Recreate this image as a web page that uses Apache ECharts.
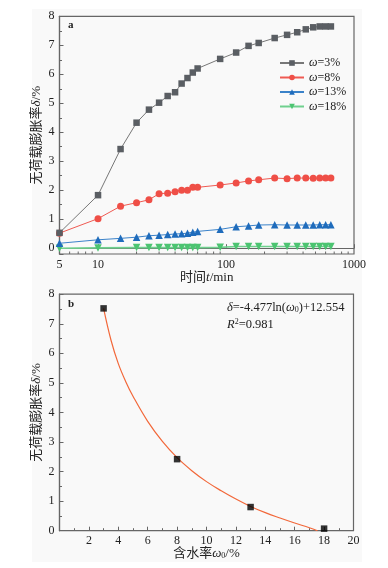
<!DOCTYPE html>
<html>
<head>
<meta charset="utf-8">
<script src="https://cdn.jsdelivr.net/npm/echarts@6/dist/echarts.min.js"></script>
<style>
html,body{margin:0;padding:0;background:#fff;}
#c{width:388px;height:568px;}
</style>
</head>
<body>
<div id="c"></div>
<script>
// ---- Data (panel a) ----
const times = [5,10,15,20,25,30,35,40,45,50,55,60,90,120,150,180,240,300,360,420,480,540,600,660];
const w3  = [0.53,1.83,3.42,4.33,4.78,5.02,5.25,5.38,5.68,5.87,6.06,6.20,6.53,6.75,6.98,7.08,7.25,7.36,7.45,7.55,7.62,7.65,7.65,7.65];
const w8  = [0.52,1.02,1.45,1.57,1.67,1.88,1.90,1.95,2.00,2.00,2.10,2.10,2.18,2.25,2.32,2.36,2.42,2.40,2.42,2.42,2.41,2.42,2.42,2.42];
const w13 = [0.17,0.29,0.34,0.38,0.43,0.45,0.47,0.49,0.50,0.52,0.55,0.58,0.65,0.74,0.77,0.80,0.81,0.80,0.80,0.80,0.80,0.81,0.81,0.81];
const w18 = [0.00,0.01,null,0.02,0.02,0.02,0.02,0.02,0.02,0.02,0.02,0.02,0.03,0.06,0.06,0.06,0.06,0.06,0.06,0.06,0.06,0.06,0.06,0.06];
const seriesNames = ['ω=3%','ω=8%','ω=13%','ω=18%'];
const xMinorTicks = [6,7,8,9,20,30,40,50,60,70,80,90,200,300,400,500,600,700,800,900];

// ---- Data (panel b) ----
const moisture = [3,8,13,18];
const swell = [7.52,2.42,0.80,0.07];
const fitX = [3,3.5,4,4.5,5,6,7,8,9,10,11,12,13,14,15,16,17,17.55];
const fitY = [7.52,6.45,5.65,5.05,4.55,3.70,3.02,2.47,2.03,1.66,1.35,1.07,0.82,0.61,0.43,0.26,0.10,0.00];

const SERIF = '"Liberation Serif","Noto Sans CJK SC",serif';
const axisColor = '#666';
const labelStyle = {fontFamily: SERIF, fontSize: 12, color: '#222'};
const italic = {fontFamily: SERIF, fontStyle: 'italic', fontSize: 13, color: '#222'};

const chart = echarts.init(document.getElementById('c'));

function pairs(xs, ys){ return xs.map((x,i)=>[x, ys[i]]); }

const lineColors = ['#5a5e63','#ef4f47','#1f6cbc','#4cc471'];
const lineStroke = ['#777','#ef5a52','#3a82c9','#6fd08e'];
const symbols = ['rect','circle','triangle','triangle'];
const rot = [0,0,0,180];
const sizes = [6.5,7,7.5,7.5];
const dataSets = [w3,w8,w13,w18];

const lineSeries = dataSets.map((d,i)=>({
  name: seriesNames[i],
  type: 'line',
  xAxisIndex: 0, yAxisIndex: 0,
  data: pairs(times, d),
  connectNulls: true,
  symbol: symbols[i],
  symbolRotate: rot[i],
  symbolSize: sizes[i],
  showSymbol: true,
  lineStyle: {color: lineStroke[i], width: i===3 ? 1.6 : 1},
  itemStyle: {color: lineColors[i]},
  emphasis: {disabled: true},
  animation: false,
  z: 3 + (3 - i)
}));

const yName = {
  name:'无荷载膨胀率{i|δ}/%', nameLocation:'middle', nameGap:16, nameMoveOverlap:false,
  nameTextStyle:{fontFamily:SERIF,fontSize:13,color:'#222',rich:{i:italic}}
};

const option = {
  animation: false,
  graphic: [
    {type:'rect', shape:{x:32,y:9,width:330,height:553}, style:{fill:'#f9f9f9'}, z:-100, silent:true},
    {type:'text', left:68, top:20, style:{text:'a', font:'bold 11px "Liberation Serif"', fill:'#222'}},
    {type:'text', left:68, top:299, style:{text:'b', font:'bold 11px "Liberation Serif"', fill:'#222'}},
    {type:'text', left:227, top:301, style:{
      text:'{i|δ}=-4.477ln({i|ω}{s|0})+12.554',
      rich:{
        i:{fontFamily:SERIF,fontSize:12.5,fontStyle:'italic'},
        s:{fontFamily:SERIF,fontSize:8,verticalAlign:'bottom'}
      },
      fontFamily:SERIF, fontSize:12.5, fill:'#222'}},
    {type:'text', left:227, top:318, style:{
      text:'{i|R}{p|2}=0.981',
      rich:{
        i:{fontFamily:SERIF,fontSize:12.5,fontStyle:'italic'},
        p:{fontFamily:SERIF,fontSize:8,verticalAlign:'top'}
      },
      fontFamily:SERIF, fontSize:12.5, fill:'#222'}}
  ],
  legend: {
    data: seriesNames,
    orient: 'vertical',
    left: 274, top: 52,
    itemWidth: 24, itemHeight: 7, itemGap: 2.5,
    selectedMode: false,
    formatter: n => n.replace('ω','{i|ω}'),
    textStyle: {fontFamily: SERIF, fontSize: 12, color:'#222',
      rich:{i:{fontFamily:SERIF,fontSize:12,fontStyle:'italic',color:'#222'}}}
  },
  grid: [
    {left:59.5, top:16.3, width:294.5, height:237.7, show:true, borderColor:axisColor, borderWidth:1.2, backgroundColor:'transparent'},
    {left:59.5, top:294.2, width:294, height:236.5, show:true, borderColor:axisColor, borderWidth:1.2, backgroundColor:'transparent'}
  ],
  xAxis: [
    {
      type:'log', logBase:10, min:5, max:1000, gridIndex:0,
      axisLine:{lineStyle:{color:axisColor,width:1.2}},
      axisTick:{inside:true,length:4,lineStyle:{color:axisColor}},
      axisLabel:{...labelStyle, margin:5, formatter: v => String(Math.round(v))},
      splitLine:{show:false},
      name:'时间{i|t}/min', nameLocation:'middle', nameGap:17, nameMoveOverlap:false,
      nameTextStyle:{fontFamily:SERIF,fontSize:13,color:'#222',rich:{i:italic}}
    },
    {
      type:'value', min:0, max:20, interval:2, gridIndex:1,
      axisLine:{lineStyle:{color:axisColor,width:1.2}},
      axisTick:{inside:true,length:4,lineStyle:{color:axisColor}},
      minorTick:{show:true,splitNumber:2,length:2.5,lineStyle:{color:axisColor}},
      axisLabel:{...labelStyle, margin:4, formatter: v => v===0 ? '' : String(v)},
      splitLine:{show:false},
      name:'含水率{i|ω}{s|0}/%', nameLocation:'middle', nameGap:16, nameMoveOverlap:false,
      nameTextStyle:{fontFamily:SERIF,fontSize:13,color:'#222',rich:{i:italic,s:{fontFamily:SERIF,fontSize:8,verticalAlign:'bottom',color:'#222'}}}
    }
  ],
  yAxis: [
    {
      type:'value', min:-0.2, max:8, splitNumber:8, gridIndex:0,
      axisLine:{lineStyle:{color:axisColor,width:1.2}},
      axisTick:{inside:true,length:4,lineStyle:{color:axisColor}},
      minorTick:{show:true,splitNumber:2,length:2.5,lineStyle:{color:axisColor}},
      axisLabel:{...labelStyle, margin:5, formatter: v => (Math.abs(v-Math.round(v))<1e-6) ? String(Math.round(v)) : ''},
      splitLine:{show:false},
      ...yName
    },
    {
      type:'value', min:0, max:8, interval:1, gridIndex:1,
      axisLine:{lineStyle:{color:axisColor,width:1.2}},
      axisTick:{inside:true,length:4,lineStyle:{color:axisColor}},
      minorTick:{show:true,splitNumber:2,length:2.5,lineStyle:{color:axisColor}},
      axisLabel:{...labelStyle, margin:5},
      splitLine:{show:false},
      ...yName
    }
  ],
  series: [
    ...lineSeries,
    {
      type:'custom', xAxisIndex:0, yAxisIndex:0, silent:true, clip:false,
      data: xMinorTicks.map(v=>[v]),
      encode:{x:0},
      renderItem:(params, api)=>{
        const p = api.coord([api.value(0), -0.2]);
        return {type:'line', shape:{x1:p[0],y1:p[1],x2:p[0],y2:p[1]-2.5}, style:{stroke:axisColor,lineWidth:1}};
      },
      z: 1
    },
    {
      type:'line', xAxisIndex:1, yAxisIndex:1,
      data: pairs(fitX, fitY), smooth:0.4, showSymbol:false, symbol:'none',
      lineStyle:{color:'#f2683a', width:1.2}, z:2, emphasis:{disabled:true}
    },
    {
      type:'scatter', xAxisIndex:1, yAxisIndex:1,
      data: pairs(moisture, swell), symbol:'rect', symbolSize:6.5,
      itemStyle:{color:'#000'}, z:3, emphasis:{disabled:true}
    }
  ]
};
chart.setOption(option);
</script>
</body>
</html>
